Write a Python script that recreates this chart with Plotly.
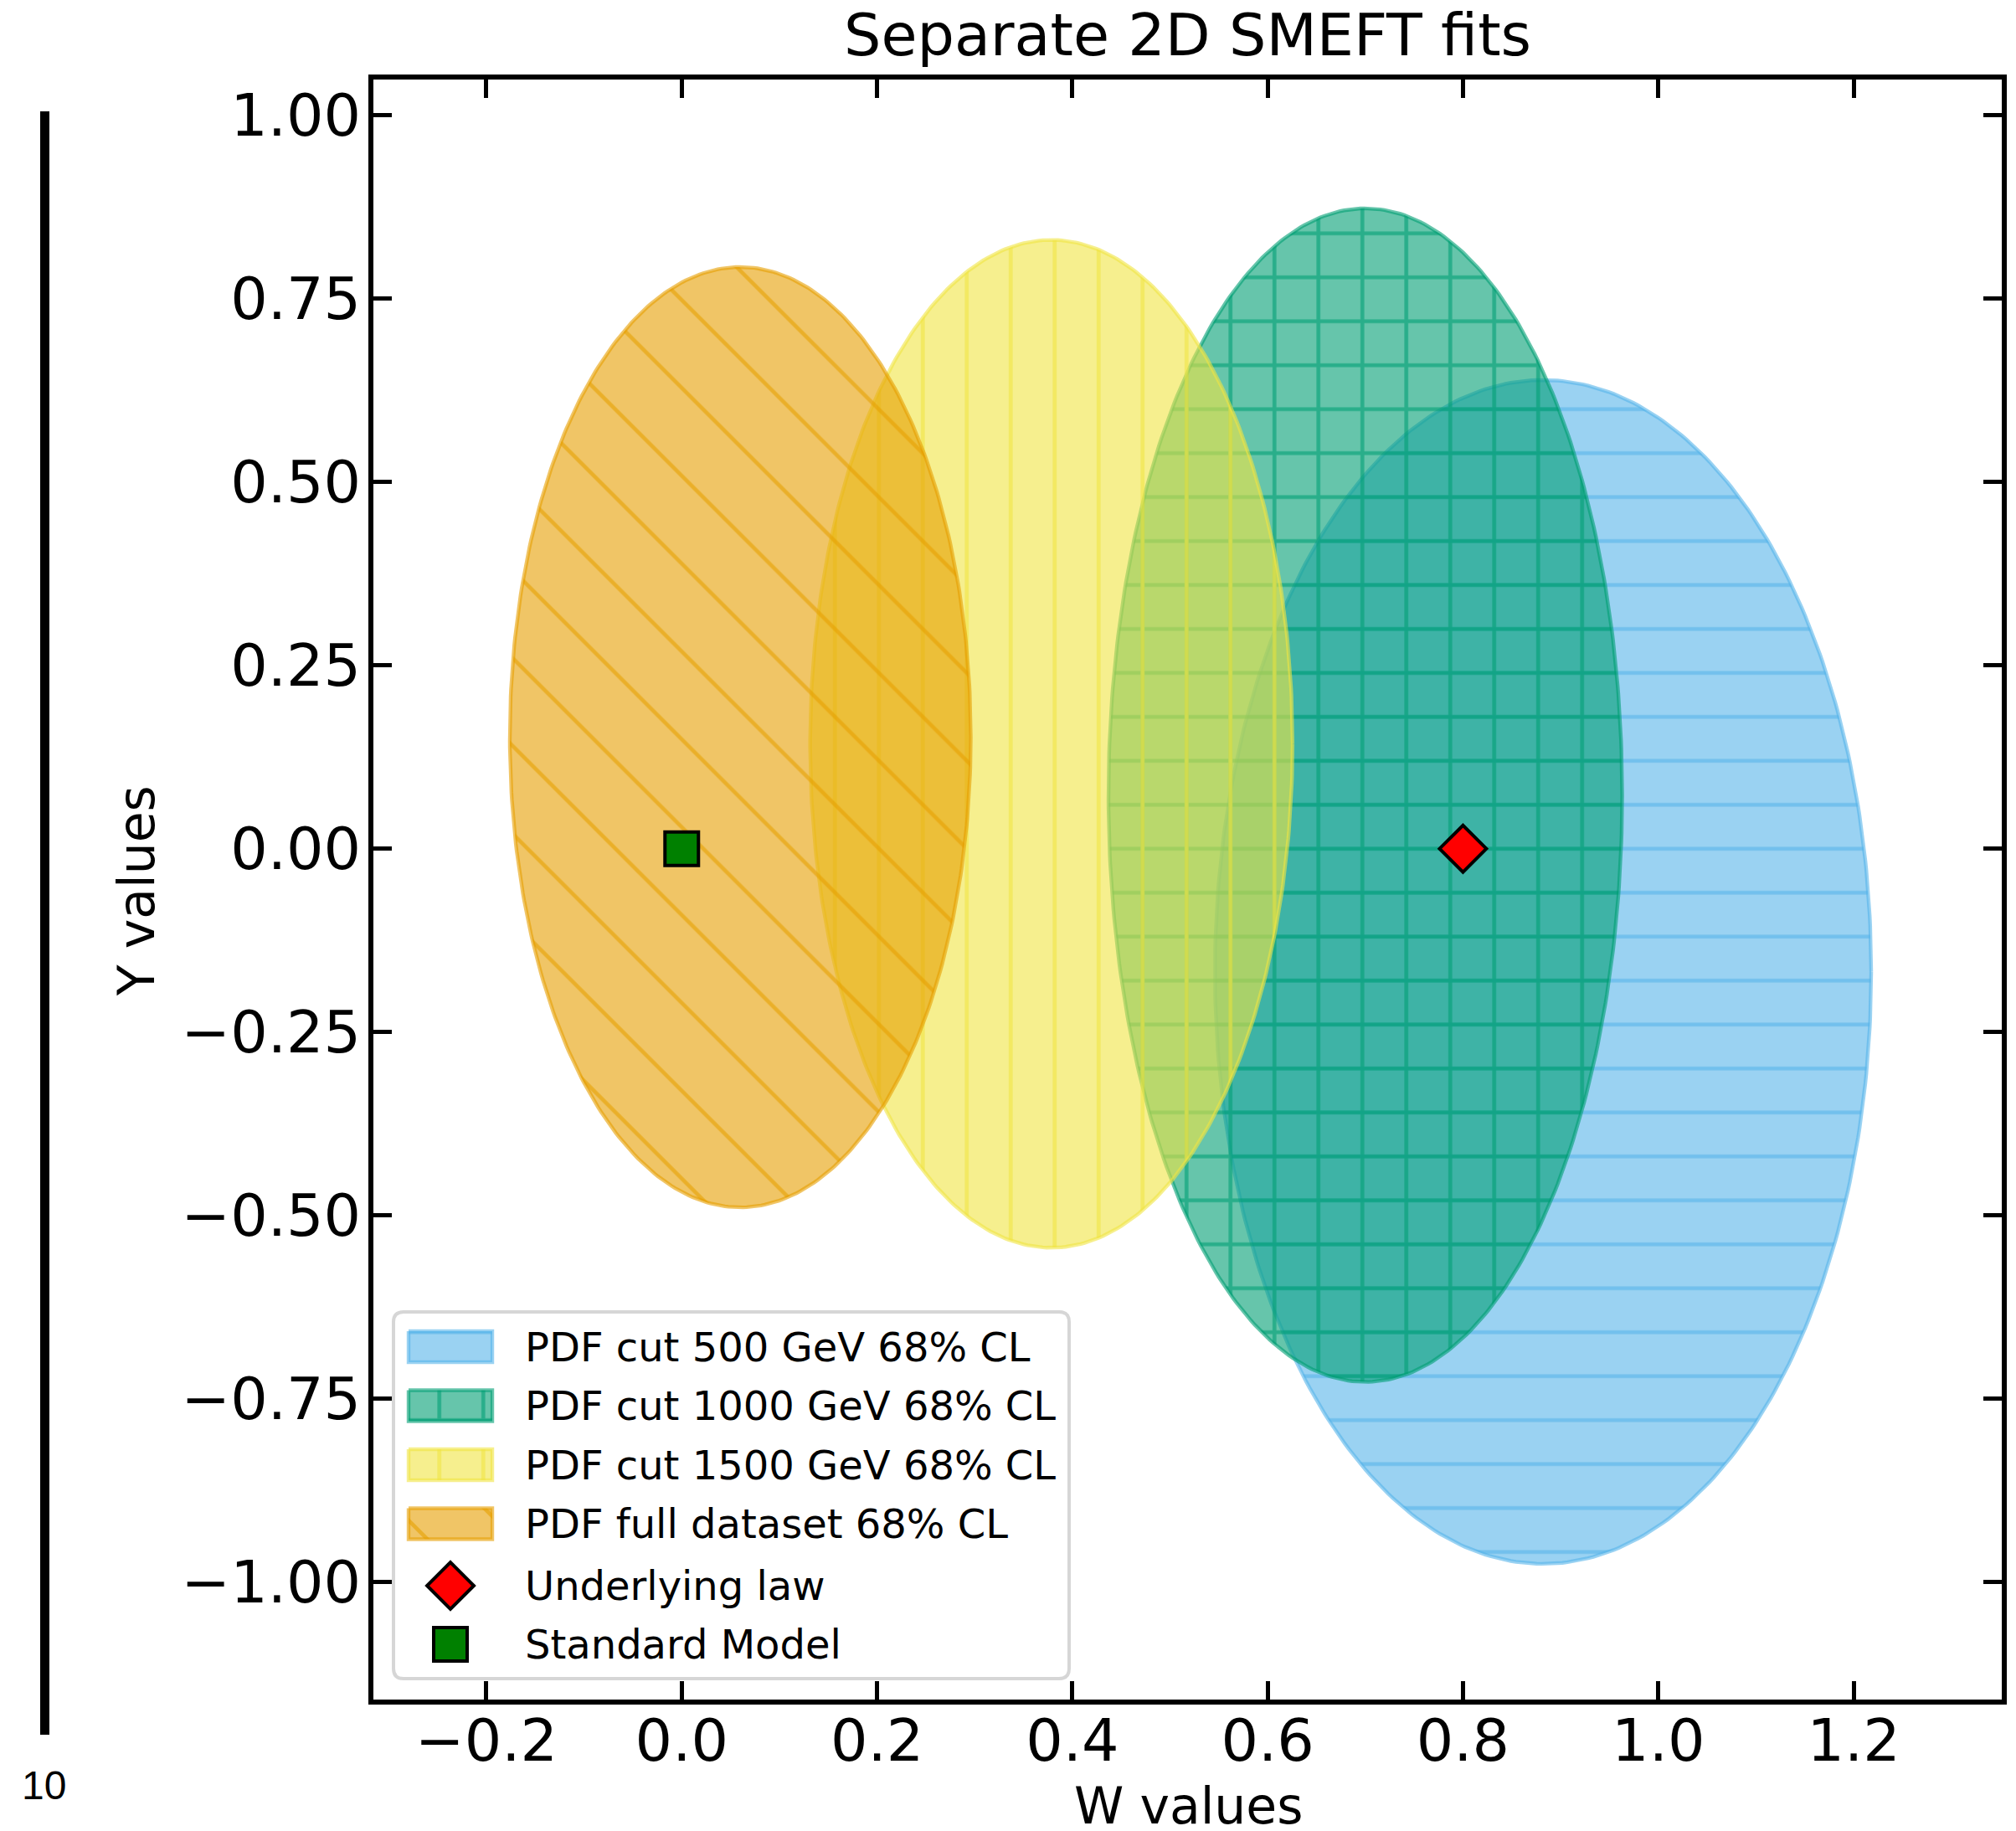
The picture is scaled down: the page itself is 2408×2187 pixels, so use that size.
import numpy as np
import plotly.graph_objects as go

# ---- fit results: 68% CL ellipses in the (W, Y) plane ----
fit_labels = ["PDF cut 500 GeV 68% CL", "PDF cut 1000 GeV 68% CL",
              "PDF cut 1500 GeV 68% CL", "PDF full dataset 68% CL"]
center_w = [0.882, 0.700, 0.3785, 0.060]
center_y = [-0.168, 0.073, 0.143, 0.152]
semi_w = [0.336, 0.263, 0.247, 0.236]
semi_y = [0.807, 0.800, 0.687, 0.641]
fit_colors = [(86, 180, 233), (0, 158, 115), (240, 228, 66), (230, 159, 0)]
hatch_shapes = ["-", "+", "|", "\\"]

# ---- reference points ----
law_w = [0.8]
law_y = [0.0]
sm_w = [0.0]
sm_y = [0.0]

# ---- axes ----
x_range = [-0.3157, 1.3517]
y_range = [-1.160, 1.0486]
x_tickvals = [-0.2, 0.0, 0.2, 0.4, 0.6, 0.8, 1.0, 1.2]
x_ticktext = ["\u22120.2", "0.0", "0.2", "0.4", "0.6", "0.8", "1.0", "1.2"]
y_tickvals = [1.0, 0.75, 0.5, 0.25, 0.0, -0.25, -0.5, -0.75, -1.0]
y_ticktext = ["1.00", "0.75", "0.50", "0.25", "0.00",
              "\u22120.25", "\u22120.50", "\u22120.75", "\u22121.00"]

W, H = 2408, 2187
L, R, T, B = 446, 2391, 95, 2030   # plot-area edges in pixels
FONT = "DejaVu Sans"


def px_x(x):
    return (x - L) / (R - L)


def px_y(y):
    return (B - y) / (B - T)


def rgba(c, a):
    return f"rgba({c[0]},{c[1]},{c[2]},{a})"


def rgb(c):
    return f"rgb({c[0]},{c[1]},{c[2]})"


# hatch geometry (tile size, stroke solidity) per pattern shape
pattern_size = {"-": 52.5, "|": 52.5, "+": 52.5, "\\": 74.2}
pattern_solidity = {"-": 0.088, "|": 0.088, "+": 0.1675, "\\": 0.062}


def hatch(c, shape):
    return dict(shape=shape, fillmode="overlay", bgcolor=rgba(c, 0.6),
                fgcolor=rgb(c), fgopacity=0.6,
                size=pattern_size[shape], solidity=pattern_solidity[shape])


fig = go.Figure()

t = np.linspace(0, 2 * np.pi, 400)
for lab, cw, cy, aw, ay, col, hs in zip(fit_labels, center_w, center_y,
                                        semi_w, semi_y, fit_colors, hatch_shapes):
    fig.add_trace(go.Scatter(
        x=cw + aw * np.cos(t), y=cy + ay * np.sin(t),
        mode="lines", fill="toself", fillpattern=hatch(col, hs),
        line=dict(color=rgba(col, 0.6), width=4.4),
        name=lab, showlegend=False, hoverinfo="skip"))

fig.add_trace(go.Scatter(
    x=law_w, y=law_y, mode="markers", name="Underlying law", showlegend=False,
    marker=dict(symbol="diamond", size=43, color="#ff0000",
                line=dict(color="black", width=4))))
fig.add_trace(go.Scatter(
    x=sm_w, y=sm_y, mode="markers", name="Standard Model", showlegend=False,
    marker=dict(symbol="square", size=40, color="#008000",
                line=dict(color="black", width=4))))

# ---- legend, drawn on a pixel-unit overlay axis ----
leg_x0, leg_x1, leg_y0, leg_y1 = 470, 1277, 1567, 2005
row_y = [1608.5, 1679, 1749.5, 1820, 1894, 1964]
hx0, hx1, hh = 488, 588, 18.5
text_x = 625


def rounded_rect(x0, y0, x1, y1, r):
    return (f"M{x0 + r},{y0} L{x1 - r},{y0} Q{x1},{y0} {x1},{y0 + r} "
            f"L{x1},{y1 - r} Q{x1},{y1} {x1 - r},{y1} L{x0 + r},{y1} "
            f"Q{x0},{y1} {x0},{y1 - r} L{x0},{y0 + r} Q{x0},{y0} {x0 + r},{y0} Z")


fig.add_shape(type="path", xref="x2", yref="y2", layer="below",
              path=rounded_rect(leg_x0, leg_y0, leg_x1, leg_y1, 12),
              fillcolor="rgba(255,255,255,0.8)",
              line=dict(color="rgba(204,204,204,0.8)", width=4))

for ry, col, hs in zip(row_y[:4], fit_colors, hatch_shapes):
    fig.add_trace(go.Scatter(
        x=[hx0, hx1, hx1, hx0, hx0], y=[ry - hh, ry - hh, ry + hh, ry + hh, ry - hh],
        xaxis="x2", yaxis="y2", mode="lines", fill="toself",
        fillpattern=hatch(col, hs), line=dict(color=rgba(col, 0.6), width=4.4),
        showlegend=False, hoverinfo="skip"))

fig.add_trace(go.Scatter(
    x=[538], y=[row_y[4]], xaxis="x2", yaxis="y2", mode="markers", showlegend=False,
    marker=dict(symbol="diamond", size=43, color="#ff0000",
                line=dict(color="black", width=4))))
fig.add_trace(go.Scatter(
    x=[538], y=[row_y[5]], xaxis="x2", yaxis="y2", mode="markers", showlegend=False,
    marker=dict(symbol="square", size=40, color="#008000",
                line=dict(color="black", width=4))))

legend_texts = fit_labels + ["Underlying law", "Standard Model"]
for ry, txt in zip(row_y, legend_texts):
    fig.add_annotation(x=px_x(text_x), y=px_y(ry), xref="paper", yref="paper",
                       text=txt, showarrow=False, xanchor="left", yanchor="middle",
                       font=dict(family=FONT, size=48, color="black"))

# ---- titles ----
fig.add_annotation(x=px_x(1418.5), y=px_y(42.5), xref="paper", yref="paper",
                   text="Separate 2D SMEFT fits", showarrow=False,
                   xanchor="center", yanchor="middle",
                   font=dict(family=FONT, size=70, color="black"))
fig.add_annotation(x=px_x(1420), y=px_y(2157), xref="paper", yref="paper",
                   text="W values", showarrow=False,
                   xanchor="center", yanchor="middle",
                   font=dict(family=FONT, size=60, color="black"))
fig.add_annotation(x=px_x(163), y=px_y(1064), xref="paper", yref="paper",
                   text="Y values", showarrow=False, textangle=-90,
                   xanchor="center", yanchor="middle",
                   font=dict(family=FONT, size=60, color="black"))

# page-margin marker at the left edge
fig.add_shape(type="line", xref="paper", yref="paper",
              x0=px_x(53.5), x1=px_x(53.5), y0=px_y(133), y1=px_y(2072),
              line=dict(color="black", width=11))
fig.add_annotation(x=px_x(52), y=px_y(2132), xref="paper", yref="paper",
                   text="10", showarrow=False, xanchor="center", yanchor="middle",
                   font=dict(family="Liberation Sans", size=48, color="black"))

axis_common = dict(showgrid=False, zeroline=False, showline=True, linewidth=6,
                   linecolor="black", mirror="ticks", ticks="inside",
                   ticklen=22, tickwidth=5, tickcolor="black",
                   tickfont=dict(family=FONT, size=70, color="black"))

fig.update_layout(
    width=W, height=H,
    margin=dict(l=L, r=W - R, t=T, b=H - B, pad=0),
    paper_bgcolor="white", plot_bgcolor="white",
    showlegend=False,
    xaxis=dict(range=x_range, tickmode="array", tickvals=x_tickvals,
               ticktext=x_ticktext, ticklabelstandoff=-17, **axis_common),
    yaxis=dict(range=y_range, tickmode="array", tickvals=y_tickvals,
               ticktext=y_ticktext, ticklabelstandoff=-5, **axis_common),
    xaxis2=dict(range=[L, R], overlaying="x", visible=False, fixedrange=True),
    yaxis2=dict(range=[B, T], overlaying="y", visible=False, fixedrange=True),
)

fig.write_html("out.html")
